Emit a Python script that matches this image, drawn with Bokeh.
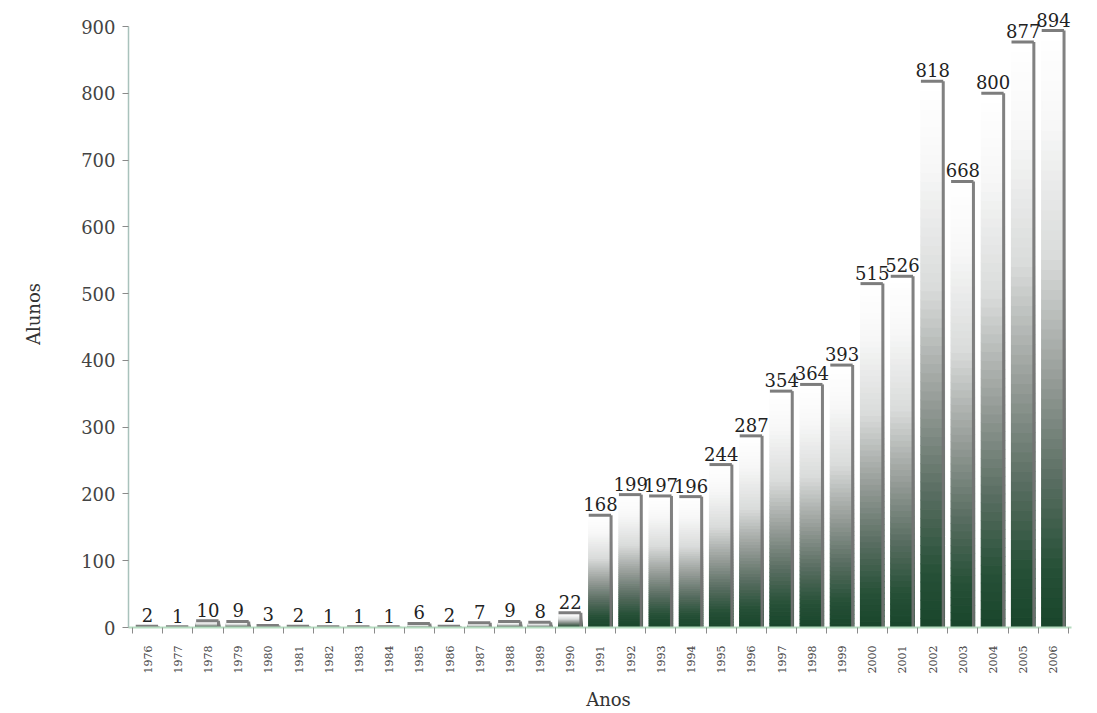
import math
from bokeh.plotting import figure
from bokeh.models import FixedTicker, ColumnDataSource
from bokeh.core.properties import value
from bokeh.embed import file_html
from bokeh.resources import INLINE

# ---- data ----
anos = ["1976", "1977", "1978", "1979", "1980", "1981", "1982", "1983", "1984", "1985",
        "1986", "1987", "1988", "1989", "1990", "1991", "1992", "1993", "1994", "1995",
        "1996", "1997", "1998", "1999", "2000", "2001", "2002", "2003", "2004", "2005", "2006"]
alunos = [2, 1, 10, 9, 3, 2, 1, 1, 1, 6, 2, 7, 9, 8, 22,
          168, 199, 197, 196, 244, 287, 354, 364, 393, 515, 526, 818, 668, 800, 877, 894]
y_ticks = [0, 100, 200, 300, 400, 500, 600, 700, 800, 900]

# ---- style ----
FONT = "DejaVu Serif"
BAR_W = 0.78
N_SLICES = 60
stops = [(0.00, (0x19, 0x45, 0x2b)),
         (0.10, (0x26, 0x50, 0x37)),
         (0.25, (0x5a, 0x6e, 0x62)),
         (0.42, (0x97, 0x9d, 0x99)),
         (0.62, (0xd9, 0xdb, 0xda)),
         (0.85, (0xf8, 0xf8, 0xf8)),
         (1.00, (0xff, 0xff, 0xff))]


def ramp(t):
    for (t0, c0), (t1, c1) in zip(stops[:-1], stops[1:]):
        if t0 <= t <= t1:
            f = (t - t0) / (t1 - t0)
            c = [round(a + (b - a) * f) for a, b in zip(c0, c1)]
            return "#%02x%02x%02x" % tuple(c)
    return "#ffffff"


xs = list(range(len(anos)))

# gradient slices built from the data values
sx, sb, st, sc = [], [], [], []
for i, v in zip(xs, alunos):
    for k in range(N_SLICES):
        sx.append(i)
        sb.append(v * k / N_SLICES)
        st.append(v * (k + 1) / N_SLICES)
        sc.append(ramp((k + 0.5) / N_SLICES))
slices = ColumnDataSource(dict(x=sx, bottom=sb, top=st, color=sc))

src = ColumnDataSource(dict(
    x=xs,
    v=alunos,
    lbl=[str(v) for v in alunos],
    xl=[i - BAR_W / 2 for i in xs],
    xr=[i + BAR_W / 2 - 0.04 for i in xs],
    zero=[0] * len(xs),
))

p = figure(width=1097, height=713, output_backend="svg", toolbar_location=None,
           x_range=(-0.63, 31.16), y_range=(0, 939),
           min_border_left=128, min_border_right=9, min_border_top=0, min_border_bottom=85)
p.outline_line_color = None
p.xgrid.grid_line_color = None
p.ygrid.grid_line_color = None
p.background_fill_color = "white"

p.vbar(x="x", bottom="bottom", top="top", width=BAR_W, source=slices,
       fill_color="color", line_color="color", line_width=1.2)

# 3D-like right edge and top cap
p.segment(x0="xr", y0="zero", x1="xr", y1="v", source=src,
          line_color="#737373", line_width=3, line_alpha=0.9)
p.segment(x0="xl", y0="v", x1="xr", y1="v", source=src,
          line_color="#7d7d7d", line_width=3)

p.text(x="x", y="v", text="lbl", source=src, y_offset=-4,
       text_align="center", text_baseline="bottom",
       text_font=value(FONT), text_font_size="18px", text_color="#222222")

# x axis
xa = p.xaxis[0]
xa.ticker = FixedTicker(ticks=xs, minor_ticks=[i - 0.5 for i in range(len(anos) + 1)])
xa.major_label_overrides = {i: a for i, a in zip(xs, anos)}
xa.bounds = (-0.63, len(anos) - 0.4)
xa.axis_line_color = "#b5dcc0"
xa.axis_line_width = 2
xa.major_tick_out = 0
xa.major_tick_in = 0
xa.minor_tick_out = 6
xa.minor_tick_in = 0
xa.minor_tick_line_color = "#8a8a8a"
xa.major_label_orientation = math.pi / 2
xa.major_label_standoff = 12
xa.major_label_text_font = FONT
xa.major_label_text_font_size = "11px"
xa.major_label_text_color = "#444444"
xa.axis_label = "Anos"
xa.axis_label_text_font = FONT
xa.axis_label_text_font_size = "18px"
xa.axis_label_text_font_style = "normal"
xa.axis_label_text_color = "#333333"
xa.axis_label_standoff = 13

# y axis
ya = p.yaxis[0]
ya.ticker = FixedTicker(ticks=y_ticks)
ya.bounds = (0, 900)
ya.axis_line_color = "#a9c2bc"
ya.axis_line_width = 1.5
ya.major_tick_out = 6
ya.major_tick_in = 0
ya.major_tick_line_color = "#8a8a8a"
ya.minor_tick_line_color = None
ya.major_label_standoff = 7
ya.major_label_text_font = FONT
ya.major_label_text_font_size = "18px"
ya.major_label_text_color = "#444444"
ya.axis_label = "Alunos"
ya.axis_label_text_font = FONT
ya.axis_label_text_font_size = "18px"
ya.axis_label_text_font_style = "normal"
ya.axis_label_text_color = "#333333"
ya.axis_label_standoff = 34

open("out.html", "w").write(file_html(p, INLINE))
